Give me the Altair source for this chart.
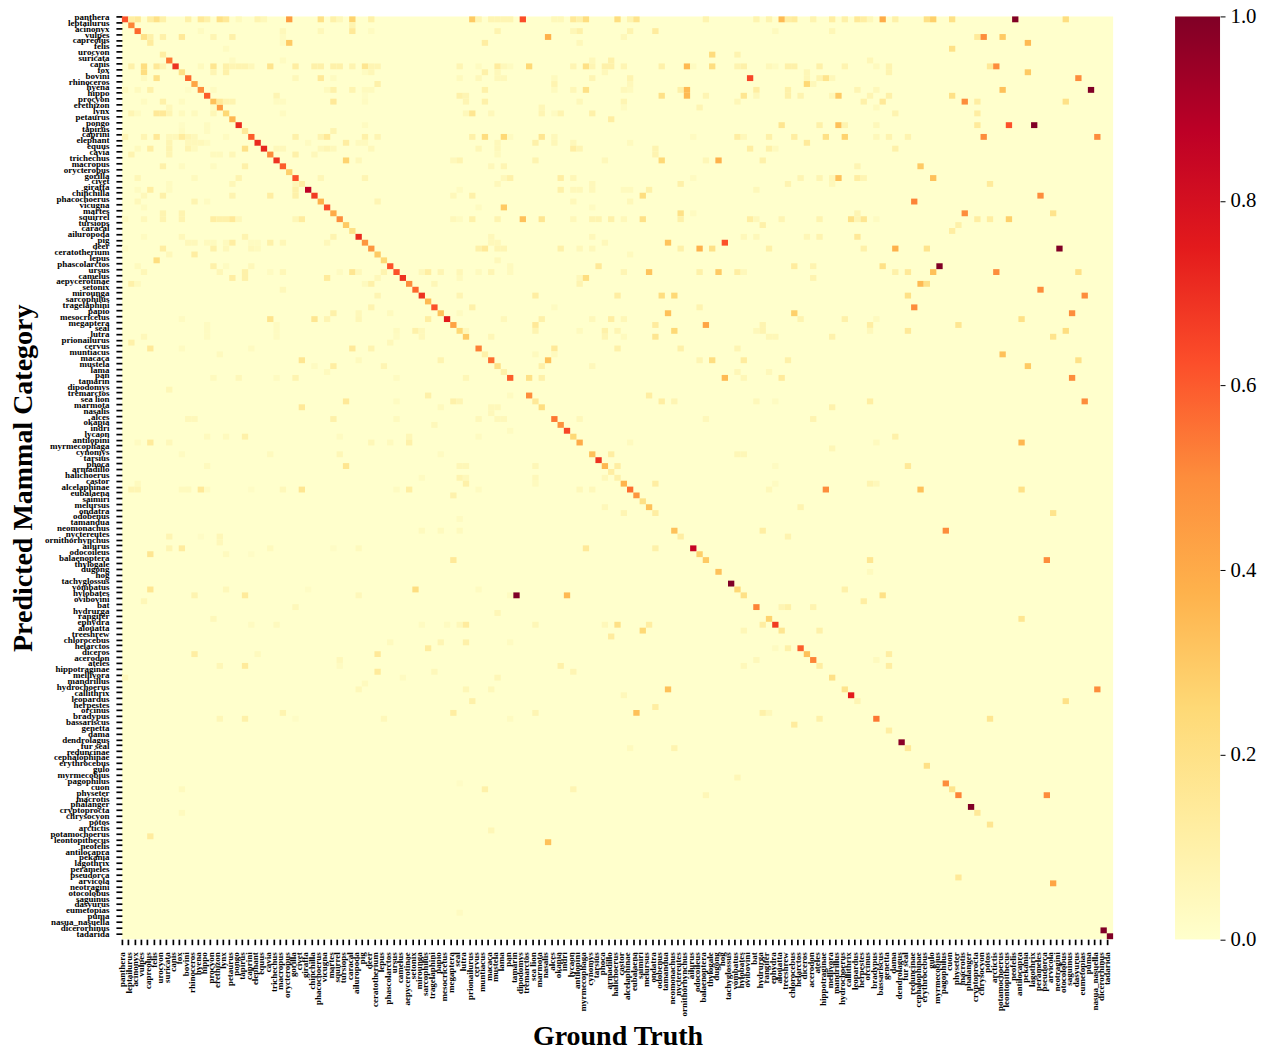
import json
import altair as alt
import pandas as pd

labels = """panthera leptailurus acinonyx vulpes capreolus felis urocyon suricata canis fox bovini rhinoceros hyena hippo procyon erethizon lynx petaurus pongo tapirus caprini elephant equus cavia trichechus macropus orycteropus gorilla civet giraffa chinchilla phacochoerus vicugna martes squirrel tursiops caracal ailuropoda pig deer ceratotherium lepus phascolarctos ursus camelus aepycerotinae setonix mirounga sarcophilus tragelaphini papio mesocricetus megaptera seal lutra prionailurus cervus muntiacus macaca mustela lama pan tamarin dipodomys tremarctos sea_lion marmota nasalis alces okapia indri lycaon antilopini myrmecophaga cynomys tarsius phoca armadillo halichoerus castor alcelaphinae eubalaena saimiri melursus ondatra odobenus tamandua neomonachus nyctereutes ornithorhynchus ailurus odocoileus balaenoptera thylogale dugong hog tachyglossus vombatus hylobates ovibovini bat hydrurga rangifer ephydra alouatta treeshrew chlorocebus helarctos diceros acerodon ateles hippotraginae mellivora mandrillus hydrochoerus callithrix leopardus herpestes orcinus bradypus bassariscus genetta dama dendrolagus fur_seal reduncinae cephalophinae erythrocebus gulo myrmecobius pagophilus cuon physeter macrotis phalanger cryptoprocta chrysocyon potos arctictis potamochoerus leontopithecus neofelis antilocapra pekania lagothrix perameles pseudorca arvicola neotragini otocolobus saguinus dasyurus eumetopias puma nasua_nasuella dicerorhinus tadarida""".split()
labels = [s if s == "nasua_nasuella" else s.replace("_", " ") for s in labels]

diagonal = [.62,.52,.58,.2,.13,0,.12,.55,.7,.2,.58,.42,.5,.6,.33,.45,.25,.36,.72,.15,
            .6,.72,.73,.5,.7,.6,.28,.62,.12,.87,.68,.38,.63,.4,.5,.3,.2,.72,.47,.47,
            .3,.25,.62,.62,.7,.5,.58,.7,.35,.62,.33,.75,.43,.25,.3,0,.53,.1,.57,.2,
            .1,.6,0,0,.5,.15,.22,0,.55,.48,.65,.25,.4,0,.33,.7,.36,.12,0,.37,
            .57,.47,.2,.33,.12,0,0,.33,.12,0,.85,.28,.3,0,.33,0,1.0,.25,.2,0,
            .52,0,.27,.68,.17,0,0,.6,.33,.52,.12,0,.2,0,.18,.75,.07,0,0,.55,
            0,.12,0,.98,.15,0,0,.2,0,0,.5,.18,.52,0,1.0,.15,0,.17,0,0,
            0,0,0,0,0,0,0,.42,0,0,0,0,0,0,0,1.0,1.0]

off_diagonal = {
 0:[(1,.12),(2,.15),(4,.12),(5,.2),(6,.1),(10,.1),(12,.15),(13,.1),(15,.2),(16,.15),(18,.04),(21,.08),(22,.05),(26,.45),(31,.2),(33,.1),(34,.05),(36,.27),(39,.1),(55,.3),(56,.07),(58,.07),(59,.07),(60,.07),(61,.07),(63,.63),(68,.05),(69,.05),(71,.15),(72,.1),(73,.22),(78,.22),(80,.08),(81,.18),(92,.08),(100,.08),(102,.08),(104,.35),(105,.12),(106,.14),(109,.08),(112,.12),(114,.1),(116,.15),(117,.12),(118,.05),(120,.4),(122,.1),(127,.2),(128,.28),(131,.2),(141,1.0),(149,.22)],
 1:[(36,.08)],
 2:[(12,.03),(25,.05),(31,.05),(36,.15),(39,.03),(59,.08),(71,.06),(72,.1),(80,.08),(84,.13),(103,.04),(112,.06)],
 3:[(4,.1),(6,.1),(9,.15),(14,.07),(17,.1),(25,.03),(67,.38),(79,.05),(135,.14),(136,.5),(139,.3)],
 4:[(25,.03),(26,.3),(57,.12),(72,.05),(143,.35)],
 5:[(16,.03),(131,.2)],
 6:[(93,.23),(97,.08)],
 7:[(17,.03),(25,.03),(74,.05),(77,.1),(118,.06)],
 8:[(1,.1),(3,.22),(5,.15),(6,.07),(12,.04),(14,.17),(16,.1),(17,.07),(18,.08),(19,.08),(20,.05),(23,.18),(27,.12),(30,.1),(31,.1),(33,.1),(34,.1),(36,.08),(38,.17),(39,.07),(40,.07),(53,.07),(56,.03),(59,.13),(60,.05),(61,.03),(64,.25),(71,.07),(73,.2),(74,.07),(76,.1),(77,.1),(79,.07),(85,.1),(89,.35),(90,.03),(93,.22),(97,.08),(98,.1),(102,.05),(103,.03),(105,.1),(106,.1),(110,.1),(114,.08),(119,.04),(121,.08),(137,.15),(138,.5)],
 9:[(3,.22),(14,.07),(16,.1),(38,.03),(39,.06),(57,.1),(59,.05),(76,.05),(108,.06),(121,.08),(143,.3)],
 10:[(3,.04),(5,.2),(27,.05),(31,.15),(33,.03),(53,.04),(56,.05),(59,.05),(60,.05),(68,.04),(74,.07),(80,.08),(99,.65),(108,.06),(110,.08),(111,.18),(112,.05),(151,.5)],
 11:[(40,.1),(68,.08),(80,.05),(108,.25),(109,.05)],
 12:[(0,.04),(2,.04),(4,.1),(10,.02),(14,.03),(32,.04),(33,.1),(36,.08),(38,.04),(39,.04),(57,.1),(68,.04),(71,.06),(73,.2),(79,.05),(80,.04),(88,.1),(89,.35),(100,.12),(105,.1),(116,.07),(119,.05),(139,.33),(153,1.0)],
 13:[(24,.07),(38,.02),(53,.1),(54,.07),(85,.2),(89,.35),(92,.07),(98,.17),(100,.05),(105,.1),(107,.08),(112,.05),(113,.3),(118,.07),(121,.1),(131,.2)],
 14:[(3,.03),(6,.1),(9,.03),(15,.15),(16,.08),(17,.08),(24,.03),(25,.03),(33,.15),(38,.03),(54,.07),(57,.1),(72,.05),(79,.07),(97,.06),(117,.1),(120,.15),(133,.5),(135,.12),(149,.2)],
 15:[(7,.05),(14,.03),(66,.06),(79,.03),(91,.07),(119,.04)],
 16:[(1,.07),(2,.03),(5,.15),(6,.15),(7,.07),(9,.04),(11,.04),(14,.06),(25,.03),(54,.05),(55,.17),(58,.05),(66,.07),(68,.03),(69,.08),(74,.1),(122,.08),(135,.12)],
 17:[(77,.12)],
 18:[(9,.02),(13,.03),(38,.03),(104,.17),(110,.1),(113,.33),(114,.08),(119,.05),(135,.14),(140,.62),(144,1.0)],
 19:[(9,.03),(13,.03),(33,.08)],
 20:[(0,.07),(3,.07),(5,.15),(7,.05),(8,.05),(9,.13),(10,.07),(11,.05),(16,.03),(27,.1),(31,.08),(32,.15),(38,.1),(40,.07),(55,.1),(57,.22),(60,.25),(61,.03),(66,.17),(68,.05),(90,.03),(97,.12),(98,.05),(102,.1),(106,.12),(111,.2),(114,.27),(119,.05),(121,.08),(124,.08),(136,.5),(154,.5)],
 21:[(7,.07),(10,.05),(11,.05),(12,.05),(13,.03),(29,.03),(35,.12),(37,.04),(38,.04),(59,.05),(65,.1),(68,.06),(71,.05),(80,.04),(108,.14)],
 22:[(2,.04),(4,.12),(7,.08),(10,.08),(11,.04),(19,.2),(24,.05),(25,.05),(31,.05),(32,.07),(33,.05),(39,.05),(56,.06),(59,.05),(71,.12),(72,.07),(84,.08),(99,.12),(102,.1),(103,.04),(122,.1)],
 23:[(1,.08),(7,.07),(14,.04),(15,.04),(17,.06),(27,.1),(30,.05),(59,.04),(84,.08)],
 24:[(35,.27),(37,.05),(52,.05),(53,.08),(65,.08),(76,.05),(85,.25),(92,.06),(94,.38),(101,.1)],
 25:[(6,.1),(9,.03),(14,.03),(19,.1),(58,.05),(60,.07),(116,.07),(126,.3)],
 27:[(2,.06),(11,.04),(18,.08),(31,.06),(38,.07),(60,.05),(61,.1),(69,.12),(71,.06),(90,.03),(107,.07),(110,.07),(112,.06),(113,.33),(116,.12),(117,.07),(128,.33)],
 28:[(7,.03),(17,.06),(27,.06),(59,.05),(74,.05),(88,.1),(105,.08),(112,.05),(137,.14)],
 29:[(2,.03),(4,.12),(7,.03),(27,.1),(53,.03),(69,.1),(71,.05),(72,.05),(74,.05),(79,.04),(80,.04),(83,.1),(100,.05)],
 30:[(3,.05),(6,.1),(17,.08),(23,.12),(27,.1),(52,.05),(55,.1),(82,.22),(145,.5)],
 31:[(2,.05),(11,.08),(13,.03),(40,.07),(71,.05),(80,.05),(125,.52)],
 32:[(3,.03),(56,.03),(60,.3),(74,.03)],
 33:[(6,.08),(9,.08),(88,.2),(90,.03),(116,.07),(133,.5),(147,.18)],
 34:[(0,.03),(3,.05),(6,.08),(9,.08),(14,.12),(15,.1),(16,.1),(17,.15),(18,.05),(27,.06),(28,.13),(52,.05),(53,.03),(55,.1),(59,.08),(63,.33),(66,.17),(71,.05),(74,.08),(75,.08),(77,.1),(79,.05),(82,.2),(88,.1),(99,.12),(100,.05),(104,.07),(110,.08),(115,.2),(116,.07),(117,.17),(119,.03),(135,.12),(137,.12),(140,.28)],
 35:[(101,.1),(132,.1)],
 36:[(131,.12)],
 37:[(3,.03),(9,.05),(19,.08),(33,.08),(58,.05),(74,.05),(98,.05),(100,.05),(108,.06),(110,.08),(116,.15)],
 38:[(10,.05),(11,.05),(13,.04),(14,.04),(16,.04),(17,.12),(20,.03),(21,.03),(23,.1),(25,.06),(32,.05),(58,.05),(59,.05),(76,.05),(86,.32),(95,.62)],
 39:[(0,.02),(6,.12),(14,.1),(16,.05),(20,.05),(21,.04),(56,.1),(57,.15),(59,.07),(60,.07),(69,.1),(72,.05),(74,.05),(88,.1),(91,.38),(93,.2),(102,.1),(117,.1),(122,.38),(127,.18),(148,1.0)],
 40:[(7,.05),(11,.12),(80,.04)],
 41:[(5,.22),(59,.05)],
 42:[(2,.04),(14,.1),(16,.03),(20,.05),(61,.04),(75,.15),(106,.13),(109,.08),(120,.2),(129,1.0)],
 43:[(3,.06),(15,.06),(19,.1),(23,.03),(25,.06),(34,.03),(36,.17),(37,.05),(41,.08),(47,.05),(48,.12),(50,.07),(53,.06),(56,.04),(58,.07),(61,.04),(79,.07),(83,.32),(91,.1),(94,.3),(97,.12),(98,.05),(122,.1),(124,.15),(128,.33),(138,.5),(151,.2)],
 44:[(17,.12),(19,.1),(32,.14),(40,.05),(53,.04),(72,.05),(73,.22),(109,.08)],
 45:[(1,.1),(2,.04),(38,.04),(39,.1),(49,.06),(72,.08),(126,.35),(127,.2)],
 46:[(25,.05),(145,.5)],
 47:[(40,.07),(53,.07),(65,.12),(78,.12),(85,.22),(87,.25),(124,.2),(152,.5)],
 49:[(39,.08),(55,.1),(68,.03),(91,.08),(125,.5)],
 50:[(33,.1),(37,.05),(42,.04),(53,.03),(86,.33),(106,.28),(150,.5)],
 51:[(9,.03),(23,.18),(30,.17),(32,.07),(37,.06),(48,.12),(60,.05),(66,.1),(74,.05),(77,.12),(79,.06),(107,.08),(114,.1),(119,.04),(142,.2)],
 52:[(13,.03),(24,.03),(65,.15),(84,.13),(92,.42),(101,.08),(118,.12),(132,.17)],
 53:[(13,.03),(24,.03),(43,.04),(46,.1),(47,.05),(54,.05),(65,.08),(72,.04),(76,.1),(78,.07),(87,.25),(100,.05),(101,.08),(118,.05),(124,.15),(149,.22)],
 54:[(3,.05),(13,.03),(24,.03),(43,.03),(47,.05),(58,.06),(76,.07),(79,.04),(84,.17),(102,.06),(103,.06),(112,.09),(147,.18)],
 55:[(1,.1),(42,.05)],
 56:[(4,.15),(9,.03),(20,.03),(36,.15),(39,.08),(68,.15),(78,.1),(88,.1),(97,.07)],
 57:[(15,.04),(65,.04),(68,.04),(139,.33)],
 58:[(28,.17),(37,.04),(50,.08),(67,.33),(91,.07),(93,.22),(98,.13),(105,.1),(151,.2)],
 59:[(30,.03),(33,.12),(41,.07),(66,.1),(74,.05),(143,.3)],
 60:[(32,.04),(97,.06),(102,.05)],
 61:[(14,.04),(18,.05),(24,.03),(27,.08),(43,.03),(54,.06),(64,.2),(66,.1),(95,.35),(98,.06),(104,.14),(150,.5)],
 63:[(7,.06)],
 64:[(48,.1),(61,.03),(83,.12)],
 65:[(35,.15),(43,.03),(52,.1),(53,.07),(85,.12),(87,.07),(100,.05),(103,.03),(118,.12),(152,.5)],
 66:[(28,.15),(50,.04),(58,.05),(59,.05),(112,.09)],
 67:[(58,.05)],
 68:[(10,.05),(11,.05),(33,.1),(43,.04),(56,.05),(59,.05),(60,.05),(72,.05),(92,.05),(109,.08)],
 69:[(49,.05)],
 70:[(61,.03)],
 71:[(13,.04),(16,.04),(19,.1),(34,.03),(45,.06),(56,.03),(122,.1)],
 72:[(2,.03),(4,.14),(7,.05),(39,.06),(42,.04),(45,.1),(80,.04),(119,.04),(142,.36)],
 73:[(112,.06)],
 74:[(9,.03),(23,.04),(34,.06),(50,.03),(77,.12),(97,.06),(98,.06)],
 76:[(13,.04),(35,.17),(53,.06),(54,.06),(65,.06),(78,.12),(103,.03),(124,.15)],
 78:[(47,.03),(53,.08),(54,.05),(65,.05),(76,.05),(78,.1)],
 79:[(2,.04),(54,.1),(65,.04),(84,.12),(103,.03),(118,.08),(119,.05)],
 80:[(1,.07),(2,.07),(9,.04),(10,.04),(12,.15),(13,.03),(20,.02),(25,.05),(28,.17),(43,.03),(45,.12),(56,.03),(72,.05),(74,.05),(102,.05),(111,.5),(126,.33),(142,.2)],
 81:[(52,.09)],
 83:[(76,.05),(107,.08)],
 84:[(79,.07),(147,.18)],
 85:[(53,.03)],
 87:[(47,.04),(50,.04),(53,.04),(101,.12),(130,.5)],
 88:[(7,.07),(12,.02),(15,.06),(105,.08)],
 89:[(15,.05)],
 90:[(7,.07),(9,.13),(23,.04),(33,.02),(37,.04),(73,.15),(84,.1)],
 91:[(4,.17),(16,.04),(20,.02)],
 92:[(52,.15),(118,.17),(146,.5)],
 94:[(118,.04)],
 97:[(4,.17),(16,.05),(29,.02),(46,.22),(56,.03),(114,.1)],
 98:[(11,.08),(19,.14),(37,.05),(61,.03),(62,1.0),(70,.35),(120,.2)],
 99:[(3,.06),(117,.12)],
 100:[(27,.05),(104,.07),(105,.1),(109,.08)],
 101:[(59,.06)],
 102:[(14,.05),(142,.17)],
 103:[(20,.03),(24,.04),(47,.03),(51,.03),(53,.05),(54,.13),(65,.06),(76,.05),(78,.2),(83,.12),(101,.12)],
 104:[(82,.25),(98,.06),(110,.1)],
 105:[(77,.13)],
 106:[(42,.04),(50,.07),(54,.1),(61,.03)],
 107:[(48,.13),(103,.03),(105,.1)],
 108:[(11,.12),(21,.04),(40,.15),(121,.12)],
 109:[(34,.05),(100,.05),(119,.04)],
 110:[(15,.06),(19,.14),(34,.03),(69,.1),(98,.05),(121,.12)],
 111:[(40,.14),(49,.05),(71,.07)],
 112:[(0,.05),(44,.03),(59,.06)],
 113:[(38,.04)],
 114:[(37,.05),(54,.06),(58,.05),(86,.33),(154,.5)],
 115:[(79,.05)],
 116:[(55,.1),(149,.2)],
 117:[(84,.12)],
 118:[(25,.08),(52,.12),(65,.07),(81,.33),(101,.1),(102,.05)],
 119:[(15,.06),(19,.1),(27,.02),(41,.05),(61,.03),(110,.1),(137,.17)],
 120:[(106,.13)],
 124:[(80,.04),(87,.08)],
 129:[(97,.06)],
 130:[(53,.02)],
 131:[(9,.04),(57,.1),(71,.07)],
 132:[(92,.06),(146,.5)],
 135:[(9,.04)],
 138:[(58,.06)],
 139:[(4,.13)],
 140:[(67,.33)],
 146:[(132,.15)],
 152:[(53,.03)],
}

ylorrd_colors = ["#ffffcc","#ffeda0","#fed976","#feb24c","#fd8d3c","#fc4e2a","#e31a1c","#bd0026","#800026"]
color_stops = [0,.125,.25,.375,.5,.625,.75,.875,1]
colorbar_ticks = [0,.2,.4,.6,.8,1]

rows = []
for i, v in enumerate(diagonal):
    if v > 0:
        rows.append({"col": i, "col_end": i + 1, "row": i, "row_end": i + 1, "share": v})
for r, pairs in off_diagonal.items():
    for c, v in pairs:
        rows.append({"col": c, "col_end": c + 1, "row": r, "row_end": r + 1, "share": v})
df = pd.DataFrame(rows)

FONT = "Liberation Serif"
n = len(labels)
tick_positions = list(range(n))
label_expr = json.dumps(labels) + "[datum.value]"

def axis(title, **kw):
    return alt.Axis(title=title, values=tick_positions, labelExpr=label_expr, labelOverlap=False,
                    labelFont=FONT, labelFontWeight="bold", labelFontSize=9, labelPadding=7,
                    labelColor="black", labelBound=False, labelFlush=False,
                    tickColor="black", tickWidth=1.7, domain=False, grid=False,
                    titleFont=FONT, titleFontWeight="bold", titleFontSize=28,
                    titleColor="black", **kw)

heat = (
    alt.Chart(df)
    .mark_rect()
    .encode(
        x=alt.X("col:Q", scale=alt.Scale(domain=[0, n], nice=False, zero=False),
                axis=axis("Ground Truth", labelAngle=270, labelAlign="right", labelBaseline="middle",
                          tickSize=5.5, titlePadding=6)),
        x2="col_end:Q",
        y=alt.Y("row:Q", scale=alt.Scale(domain=[0, n], nice=False, zero=False, reverse=True),
                axis=axis("Predicted Mammal Category", labelAlign="right", labelBaseline="middle",
                          tickSize=6, titlePadding=7)),
        y2="row_end:Q",
        color=alt.Color("share:Q", legend=None,
                        scale=alt.Scale(domain=color_stops, range=ylorrd_colors, clamp=True)),
    )
    .properties(width=992, height=923.5)
)

colorbar = (
    alt.Chart(pd.DataFrame({"low": [0.0], "high": [1.0]}))
    .mark_rect(color=alt.Gradient(gradient="linear", x1=0, x2=0, y1=1, y2=0,
                                  stops=[alt.GradientStop(color=c, offset=o)
                                         for c, o in zip(ylorrd_colors, color_stops)]))
    .encode(
        y=alt.Y("low:Q", scale=alt.Scale(domain=[0, 1], nice=False),
                axis=alt.Axis(title=None, orient="right", values=colorbar_ticks, format=".1f",
                              domain=False, grid=False, labelFont=FONT, labelFontSize=20.8,
                              labelColor="black", labelPadding=5, labelFlush=False, labelBound=False,
                              tickColor="black", tickWidth=1, tickSize=5)),
        y2="high:Q",
        x=alt.value(0),
        x2=alt.value(45),
    )
    .properties(width=45, height=923.5)
)

chart = (
    alt.hconcat(heat, colorbar, spacing=62)
    .properties(padding={"left": 1, "top": -3, "right": 5, "bottom": 5})
    .configure_view(fill="#ffffcc", strokeWidth=0)
)

chart.save("out.html", embed_options={"renderer": "svg", "actions": False})
